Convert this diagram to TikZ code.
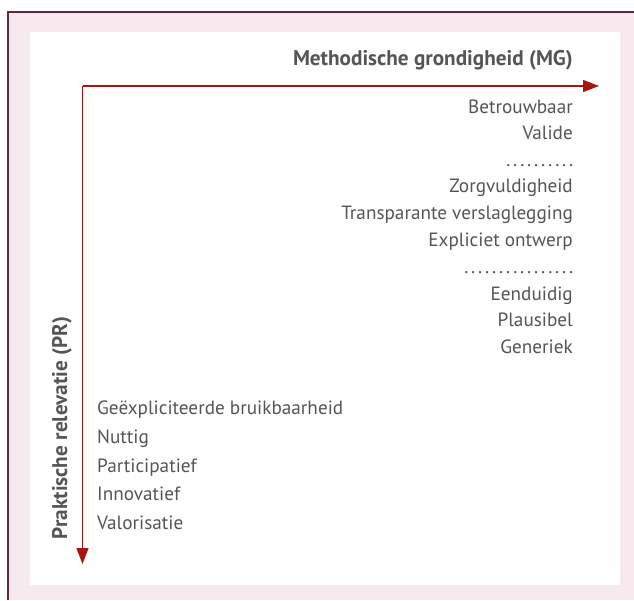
\documentclass[tikz,border=0pt]{standalone}
\usepackage{fontspec}
\setmainfont{PT Sans}
\usetikzlibrary{arrows.meta}
\definecolor{pinkbg}{HTML}{F6EAEE}
\definecolor{frame}{HTML}{6B2440}
\definecolor{axisred}{HTML}{A8150F}
\definecolor{txt}{HTML}{555555}
\newcommand\mydotrow[1]{\foreach \i in {1,...,#1}{\makebox[7pt][c]{.}}}
\begin{document}
\begin{tikzpicture}[x=1pt,y=-1pt,
  lbl/.style={font=\fontsize{19.2}{22}\selectfont, text=txt, inner sep=0pt},
  rlbl/.style={lbl, anchor=base east},
  llbl/.style={lbl, anchor=base west},
  ttl/.style={font=\fontsize{21.2}{24}\selectfont\bfseries, text=txt, inner sep=0pt},
  axis/.style={draw=axisred, line width=1.3pt, -{Triangle[length=16pt,width=12pt]}}]
\useasboundingbox (0,0) rectangle (634,600);
\fill[pinkbg] (8,12) rectangle (634,600);
\fill[white] (30,32) rectangle (620,585);
\draw[frame, line width=2.2pt] (8,600) -- (8,12) -- (634,12);
\coordinate (o) at (82.5,86);
\coordinate (xend) at (599,86);
\coordinate (yend) at (82.5,564);
\draw[axis] (o) -- (xend);
\draw[axis] (o) -- (yend);
\node[ttl, anchor=base east] (mg) at (573,65) {Methodische grondigheid (MG)};
\node[ttl, anchor=base, rotate=90] (pr) at (67,428) {Praktische relevatie (PR)};
\node[rlbl] (r1) at (573,113) {Betrouwbaar};
\node[rlbl] (r2) at (573,139) {Valide};
\node[rlbl] (r3) at (575,166) {\mydotrow{10}};
\node[rlbl] (r4) at (573,192) {Zorgvuldigheid};
\node[rlbl] (r5) at (573,219) {Transparante verslaglegging};
\node[rlbl] (r6) at (573,246) {Expliciet ontwerp};
\node[rlbl] (r7) at (575,273) {\mydotrow{16}};
\node[rlbl] (r8) at (573,300) {Eenduidig};
\node[rlbl] (r9) at (573,326) {Plausibel};
\node[rlbl] (r10) at (573,353) {Generiek};
\node[llbl] (l1) at (97,414) {Geëxpliciteerde bruikbaarheid};
\node[llbl] (l2) at (97,443) {Nuttig};
\node[llbl] (l3) at (97,472) {Participatief};
\node[llbl] (l4) at (97,500) {Innovatief};
\node[llbl] (l5) at (97,529) {Valorisatie};
\end{tikzpicture}
\end{document}
